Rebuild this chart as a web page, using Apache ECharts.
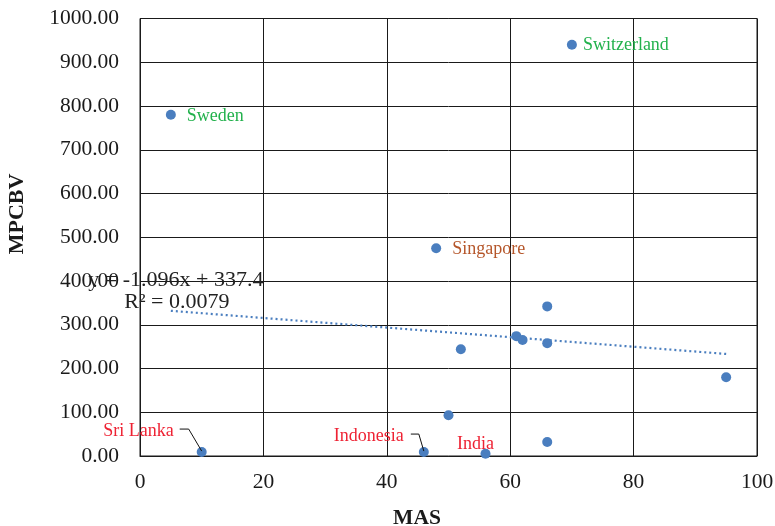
<!DOCTYPE html>
<html><head><meta charset="utf-8">
<script src="https://cdn.jsdelivr.net/npm/echarts@6/dist/echarts.min.js"></script>
<style>html,body{margin:0;padding:0;background:#fff;overflow:hidden}#c{width:775px;height:526px}</style>
</head><body><div id="c"></div>
<script>
var countries = ['Sweden','Switzerland','Singapore','Sri Lanka','Indonesia','India','','','','','','','',''];
var masValues = [5,70,48,10,46,56,50,52,61,62,66,66,66,95];
var mpcbvValues = [780,940,475,9,9,5,93,244,274,265,258,342,32,180];
var trendX = [5,95];
var trendY = [331.9,233.3];
var xTicks = [0,20,40,60,80,100];
var yTicks = [0,100,200,300,400,500,600,700,800,900,1000];
var xTitle = 'MAS';
var yTitle = 'MPCBV';
var equationText = 'y = -1.096x + 337.4';
var r2Text = 'R² = 0.0079';

var FONT = '"Liberation Serif","Times New Roman",serif';
var labelStyles = {
  'Sweden': {position:'right', color:'#22b14c', offset:[6,2]},
  'Switzerland': {position:'right', color:'#22b14c', offset:[1,1]},
  'Singapore': {position:'right', color:'#b5562a', offset:[6,1]},
  'Sri Lanka': {position:'left', color:'#ee2233', offset:[-18,-21]},
  'Indonesia': {position:'left', color:'#ee2233', offset:[-10,-16]},
  'India': {position:'inside', color:'#ee2233', offset:[-10,-10]}
};
var points = masValues.map(function(x,i){
  var name = countries[i];
  var item = {value:[x, mpcbvValues[i]], name:name};
  if (name && labelStyles[name]) {
    var s = labelStyles[name];
    item.label = {show:true, formatter:name, position:s.position, offset:s.offset, color:s.color,
      fontFamily:FONT, fontSize:18};
  }
  return item;
});

var chart = echarts.init(document.getElementById('c'), null, {renderer:'canvas', width:775, height:526});
var axisLineStyle = {color:'#1a1a1a', width:1};
chart.setOption({
  animation:false,
  grid:{left:140, right:18, top:18.5, bottom:70, containLabel:false, outerBoundsMode:'none',
    show:true, borderColor:'#1a1a1a', borderWidth:1},
  xAxis:{type:'value', min:0, max:100, interval:20,
    axisLine:{show:true, lineStyle:axisLineStyle}, axisTick:{show:false},
    splitLine:{show:true, lineStyle:axisLineStyle},
    axisLabel:{fontFamily:FONT, fontSize:21.5, color:'#1a1a1a', margin:15,
      formatter:function(v){return xTicks.indexOf(v)>=0 ? String(v) : '';}}},
  yAxis:{type:'value', min:0, max:1000, interval:100,
    axisLine:{show:true, lineStyle:axisLineStyle}, axisTick:{show:false},
    splitLine:{show:true, lineStyle:axisLineStyle},
    axisLabel:{fontFamily:FONT, fontSize:21.5, color:'#1a1a1a', margin:21,
      formatter:function(v){return yTicks.indexOf(v)>=0 ? v.toFixed(2) : '';}}},
  series:[
    {type:'line', data:trendX.map(function(x,i){return [x,trendY[i]];}), symbol:'none',
      lineStyle:{color:'#4a7ebf', width:2.2, type:[2,3]}, z:2, silent:true},
    {type:'scatter', data:points, symbolSize:10, itemStyle:{color:'#4a7ebf', opacity:1}, z:3}
  ]
});

function leader(name, dx1, dy1, dx2, dy2) {
  var i = countries.indexOf(name);
  var p = chart.convertToPixel({gridIndex:0}, [masValues[i], mpcbvValues[i]]);
  return {type:'polyline', shape:{points:[[p[0]+dx1,p[1]+dy1],[p[0]+dx2,p[1]+dy2],[p[0],p[1]-1]]},
    style:{stroke:'#111', lineWidth:1, fill:null}, z:10};
}
var eqAnchor = chart.convertToPixel({gridIndex:0}, [trendX[0], trendY[0]]);
chart.setOption({graphic:[
  leader('Sri Lanka', -22, -23, -13, -23),
  leader('Indonesia', -13, -18, -5, -18),
  {type:'text', x:eqAnchor[0]+5, y:eqAnchor[1]-31, style:{text:equationText, font:'22px '+FONT, fill:'#222', align:'center', verticalAlign:'middle'}, z:10},
  {type:'text', x:eqAnchor[0]+6, y:eqAnchor[1]-9, style:{text:r2Text, font:'22px '+FONT, fill:'#222', align:'center', verticalAlign:'middle'}, z:10},
  {type:'text', x:417, y:518, style:{text:xTitle, font:'bold 21.5px '+FONT, fill:'#1a1a1a', align:'center', verticalAlign:'middle'}, z:10},
  {type:'text', x:17, y:214, rotation:Math.PI/2, style:{text:yTitle, font:'bold 22px '+FONT, fill:'#1a1a1a', align:'center', verticalAlign:'middle'}, z:10}
]});
</script>
</body></html>
